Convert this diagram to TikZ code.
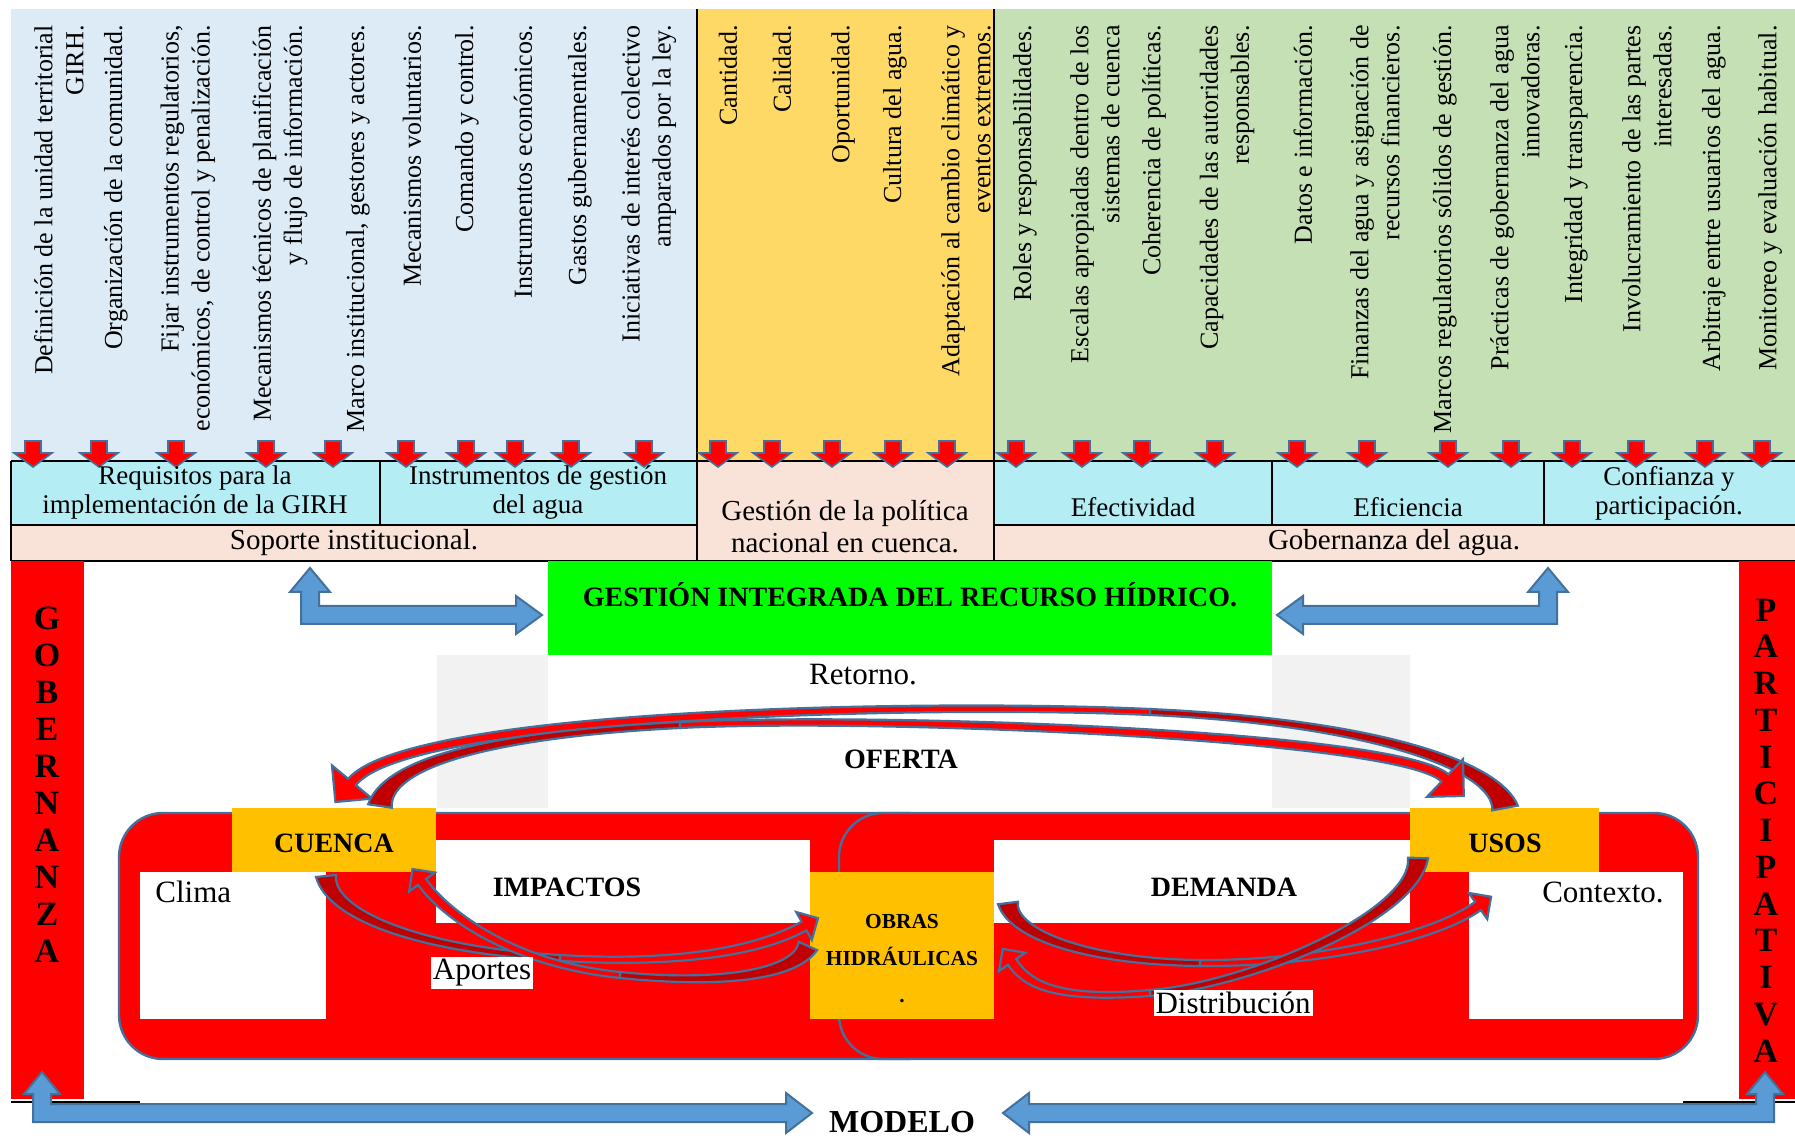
\documentclass[tikz,border=0pt]{standalone}
\usepackage{fontspec}
\setmainfont{Liberation Serif}
\usetikzlibrary{calc}

\definecolor{panelblue}{HTML}{DDEBF7}
\definecolor{panelyellow}{HTML}{FFD966}
\definecolor{panelgreen}{HTML}{C5E0B4}
\definecolor{cellcyan}{HTML}{B5EDF5}
\definecolor{cellpink}{HTML}{F9E2D7}
\definecolor{boxorange}{HTML}{FFC000}
\definecolor{girhgreen}{HTML}{00FF00}
\definecolor{shadegray}{HTML}{F2F2F2}
\definecolor{arrowblue}{HTML}{5B9BD5}
\definecolor{edgeblue}{HTML}{41719C}
\definecolor{darkred}{HTML}{C00000}

\tikzset{
  coltext/.style={rotate=90, anchor=east, align=right, inner sep=0pt, font=\fontsize{13}{15.5}\selectfont},
  celltext/.style={align=center, inner sep=0pt, font=\fontsize{13.5}{14.5}\selectfont},
  rowtext/.style={align=center, inner sep=0pt, font=\fontsize{14.5}{16}\selectfont},
  boldlabel/.style={inner sep=0pt, font=\bfseries\fontsize{14}{16}\selectfont},
  plainlabel/.style={inner sep=0pt, font=\fontsize{15.5}{18}\selectfont},
  vletter/.style={inner sep=0pt, font=\bfseries\fontsize{17}{20}\selectfont},
  flatbox/.style={inner sep=0pt, outer sep=0pt, anchor=north west},
  gridline/.style={black, line width=1pt},
  downarrow/.style={fill=red, draw=edgeblue, line width=0.8pt},
  blockarrow/.style={fill=arrowblue, draw=edgeblue, line width=1pt},
  arrowline/.style={draw=edgeblue, line width=1.1pt},
}

% base, c1, c2, mid, c3, c4, neck, base half width, head half width
\newcommand{\flowarrow}[9]{%
  \filldraw[arrowline, fill=darkred]
    ($(#1)!#8!90:(#2)$) .. controls ($(#2)!3pt!90:(#3)$) and ($(#3)!1.5pt!-90:(#2)$) .. ($(#4)!1.5pt!-90:(#3)$)
    -- ($(#4)!1.5pt!90:(#3)$) .. controls ($(#3)!1.5pt!90:(#2)$) and ($(#2)!3pt!-90:(#3)$) .. ($(#1)!#8!-90:(#2)$) -- cycle;
  \filldraw[arrowline, fill=red]
    ($(#4)!1.5pt!-90:(#3)$) .. controls ($(#5)!1.5pt!90:(#6)$) and ($(#6)!2.5pt!-90:(#5)$) .. ($(#7)!2.5pt!-90:(#6)$)
    -- ($(#7)!#9!-90:(#6)$) -- ($(#7)!-#9!(#6)$) -- ($(#7)!#9!90:(#6)$) -- ($(#7)!2.5pt!90:(#6)$)
    .. controls ($(#6)!2.5pt!90:(#5)$) and ($(#5)!1.5pt!-90:(#6)$) .. ($(#4)!1.5pt!90:(#3)$) -- cycle;
}

\begin{document}
\begin{tikzpicture}[x=0.5pt, y=-0.5pt]
    \useasboundingbox (0,0) rectangle (1795,1138);

    % upper table
    \fill[panelblue] (11,9) rectangle (697,461);
    \fill[panelyellow] (697,9) rectangle (994,461);
    \fill[panelgreen] (994,9) rectangle (1795,461);
    \fill[cellcyan] (11,461) rectangle (697,525);
    \fill[cellcyan] (994,461) rectangle (1795,525);
    \fill[cellpink] (11,525) rectangle (697,561);
    \fill[cellpink] (697,461) rectangle (994,561);
    \fill[cellpink] (994,525) rectangle (1795,561);
    \draw[gridline] (11,461) -- (1795,461);
    \draw[gridline] (11,525) -- (697,525);
    \draw[gridline] (994,525) -- (1795,525);
    \draw[gridline] (11,561) -- (1795,561);
    \draw[gridline] (11,461) -- (11,561);
    \draw[gridline] (380,461) -- (380,525);
    \draw[gridline] (697,9) -- (697,561);
    \draw[gridline] (994,9) -- (994,561);
    \draw[gridline] (1272,461) -- (1272,525);
    \draw[gridline] (1544,461) -- (1544,525);

    \node[coltext] (c1) at (59,25) {Definición de la unidad territorial\\GIRH.};
    \node[coltext] (c2) at (116,25) {Organización de la comunidad.};
    \node[coltext] (c3) at (188,25) {Fijar instrumentos regulatorios,\\económicos, de control y penalización.};
    \node[coltext] (c4) at (280,25) {Mecanismos técnicos de planificación\\y flujo de información.};
    \node[coltext] (c5) at (358,25) {Marco institucional, gestores y actores.};
    \node[coltext] (c6) at (412,25) {Mecanismos voluntarios.};
    \node[coltext] (c7) at (467,25) {Comando y control.};
    \node[coltext] (c8) at (523,25) {Instrumentos económicos.};
    \node[coltext] (c9) at (580,25) {Gastos gubernamentales.};
    \node[coltext] (c10) at (649,25) {Iniciativas de interés colectivo\\amparados por la ley.};
    \node[coltext] (c11) at (728,25) {Cantidad.};
    \node[coltext] (c12) at (782,25) {Calidad.};
    \node[coltext] (c13) at (843,25) {Oportunidad.};
    \node[coltext] (c14) at (895,25) {Cultura del agua.};
    \node[coltext] (c15) at (966,25) {Adaptación al cambio climático y\\eventos extremos.};
    \node[coltext] (c16) at (1025,25) {Roles y responsabilidades.};
    \node[coltext] (c17) at (1095,25) {Escalas apropiadas dentro de los\\sistemas de cuenca};
    \node[coltext] (c18) at (1154,25) {Coherencia de políticas.};
    \node[coltext] (c19) at (1227,25) {Capacidades de las autoridades\\responsables.};
    \node[coltext] (c20) at (1303,25) {Datos e información.};
    \node[coltext] (c21) at (1375,25) {Finanzas del agua y asignación de\\recursos financieros.};
    \node[coltext] (c22) at (1445,25) {Marcos regulatorios sólidos de gestión.};
    \node[coltext] (c23) at (1515,25) {Prácticas de gobernanza del agua\\innovadoras.};
    \node[coltext] (c24) at (1576,25) {Integridad y transparencia.};
    \node[coltext] (c25) at (1647,25) {Involucramiento de las partes\\interesadas.};
    \node[coltext] (c26) at (1714,25) {Arbitraje entre usuarios del agua.};
    \node[coltext] (c27) at (1770,25) {Monitoreo y evaluación habitual.};

    \foreach \x in {33,99,176,266,333,406,466,515,571,644,718,772,832,893,947,1016,1082,1142,1215,1297,1367,1448,1511,1572,1636,1705,1762}
        \draw[downarrow] (\x-8,441) -- (\x+8,441) -- (\x+8,453) -- (\x+19,453) -- (\x,467) -- (\x-19,453) -- (\x-8,453) -- cycle;

    \node[celltext] (req) at (195,493) {Requisitos para la\\implementación de la GIRH};
    \node[celltext] (instr) at (538,493) {Instrumentos de gestión\\del agua};
    \node[celltext] (efect) at (1133,507) {Efectividad};
    \node[celltext] (efic) at (1408,507) {Eficiencia};
    \node[celltext] (confi) at (1669,493) {Confianza y\\participación.};
    \node[rowtext] (soporte) at (354,543) {Soporte institucional.};
    \node[rowtext] (politica) at (845,527) {Gestión de la política\\nacional en cuenca.};
    \node[rowtext] (gobagua) at (1394,543) {Gobernanza del agua.};

    % side bars
    \fill[red] (11,561) rectangle (84,1099);
    \fill[red] (1739,561) rectangle (1795,1099);
    \draw[gridline] (11,1102) -- (140,1102);
    \draw[gridline] (1683,1102) -- (1795,1102);
    \foreach \l [count=\i] in {G,O,B,E,R,N,A,N,Z,A}
        \node[vletter] (gob\i) at (47,581+37*\i) {\l};
    \foreach \l [count=\i] in {P,A,R,T,I,C,I,P,A,T,I,V,A}
        \node[vletter] (par\i) at (1766,573.25+36.75*\i) {\l};

    % GIRH
    \node[flatbox, fill=girhgreen, minimum width=362pt, minimum height=47pt] (girh) at (548,561) {};
    \node[boldlabel] (girhtext) at (910,595) {GESTIÓN INTEGRADA DEL RECURSO HÍDRICO.};
    \fill[shadegray] (437,655) rectangle (548,808);
    \fill[shadegray] (1272,655) rectangle (1410,808);

    \draw[blockarrow] (301,624) -- (301,592) -- (290,592) -- (310,568) -- (330,592) -- (319,592) -- (319,606) -- (516,606) -- (516,596) -- (542,615) -- (516,634) -- (516,624) -- cycle;
    \draw[blockarrow] (1557,624) -- (1557,592) -- (1568,592) -- (1548,568) -- (1528,592) -- (1539,592) -- (1539,606) -- (1303,606) -- (1303,596) -- (1277,615) -- (1303,634) -- (1303,624) -- cycle;

    % model
    \draw[fill=red, draw=edgeblue, line width=1.2pt, rounded corners=22pt] (119,813) rectangle (950,1059);
    \draw[fill=red, draw=edgeblue, line width=1.2pt, rounded corners=22pt] (839,813) rectangle (1698,1059);

    \node[flatbox, fill=white, minimum width=93pt, minimum height=73.5pt] (clima) at (140,872) {};
    \node[flatbox, fill=white, minimum width=187pt, minimum height=41.5pt] (impactos) at (436,840) {};
    \node[flatbox, fill=white, minimum width=208pt, minimum height=41.5pt] (demanda) at (994,840) {};
    \node[flatbox, fill=white, minimum width=107pt, minimum height=73.5pt] (contexto) at (1469,872) {};
    \node[flatbox, fill=boxorange, minimum width=102pt, minimum height=32pt] (cuenca) at (232,808) {};
    \node[flatbox, fill=boxorange, minimum width=94.5pt, minimum height=32pt] (usos) at (1410,808) {};
    \node[flatbox, fill=boxorange, minimum width=92pt, minimum height=73.5pt] (obras) at (810,872) {};

    \node[boldlabel] (cuencatext) at (334,843) {CUENCA};
    \node[boldlabel] (usostext) at (1505,843) {USOS};
    \node[boldlabel] (impactostext) at (567,887) {IMPACTOS};
    \node[boldlabel] (demandatext) at (1224,887) {DEMANDA};
    \node[boldlabel, align=center, font=\bfseries\fontsize{10.7}{18.5}\selectfont] (obrastext) at (902,959) {OBRAS\\HIDRÁULICAS\\.};
    \node[plainlabel, anchor=west] (climatext) at (155,892) {Clima};
    \node[plainlabel] (contextotext) at (1603,892) {Contexto.};

    % retorno
    \coordinate (ret1base) at (1505,808);
    \coordinate (ret1neck) at (352,782);
    \coordinate (ret2base) at (380,806);
    \coordinate (ret2neck) at (1445,778);
    \flowarrow{ret1base}{1497,765}{1370,722}{1150,712}{930,702}{410,712}{ret1neck}{6.5pt}{13pt}
    \flowarrow{ret2base}{386,765}{480,735}{680,725}{880,715}{1400,735}{ret2neck}{6pt}{13pt}

    % aportes, impactos, demanda, distribucion
    \coordinate (apobase) at (326,876);
    \coordinate (aponeck) at (804,926);
    \coordinate (impbase) at (808,946);
    \coordinate (impneck) at (422,882);
    \coordinate (dembase) at (1008,903);
    \coordinate (demneck) at (1478,906);
    \coordinate (disbase) at (1418,858);
    \coordinate (disneck) at (1012,962);
    \flowarrow{apobase}{330,915}{420,950}{560,958}{700,966}{770,945}{aponeck}{5pt}{8pt}
    \flowarrow{impbase}{795,975}{720,985}{620,975}{520,965}{450,920}{impneck}{5pt}{8pt}
    \flowarrow{dembase}{1012,935}{1090,962}{1200,963}{1310,964}{1430,940}{demneck}{5pt}{8pt}
    \flowarrow{disbase}{1416,915}{1250,985}{1150,993}{1050,1001}{1026,982}{disneck}{5pt}{8pt}

    \node[plainlabel, fill=white, inner sep=1pt] (aportes) at (482,973) {Aportes};
    \node[plainlabel, fill=white, inner sep=1pt] (distrib) at (1233,1003) {Distribución};
    \node[plainlabel] (retorno) at (863,675) {Retorno.};
    \node[boldlabel] (oferta) at (901,759) {OFERTA};

    % modelo
    \node[boldlabel, font=\bfseries\fontsize{16}{18}\selectfont] (modelo) at (902,1122) {MODELO};
    \draw[blockarrow] (33,1122) -- (33,1094) -- (24,1094) -- (42,1072) -- (60,1094) -- (51,1094) -- (51,1104) -- (786,1104) -- (786,1093) -- (812,1113) -- (786,1133) -- (786,1122) -- cycle;
    \draw[blockarrow] (1774,1122) -- (1774,1094) -- (1783,1094) -- (1765,1072) -- (1747,1094) -- (1756,1094) -- (1756,1104) -- (1029,1104) -- (1029,1093) -- (1003,1113) -- (1029,1133) -- (1029,1122) -- cycle;
\end{tikzpicture}
\end{document}
